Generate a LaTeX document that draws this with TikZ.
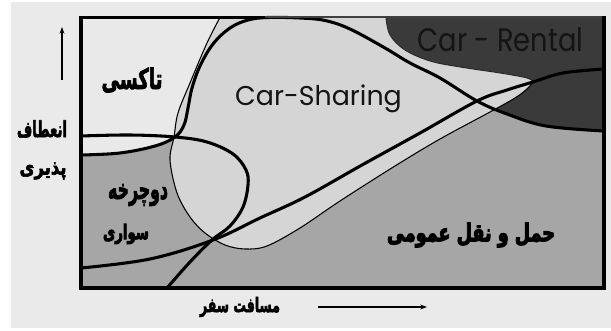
\documentclass[tikz,border=0pt]{standalone}
\usepackage{fontspec}
\usepackage{graphicx}
\setmainfont{Poppins}
\newfontfamily\fa[Script=Arabic,FakeBold=3]{DejaVu Sans Bold}
\newfontfamily\fb[Script=Arabic,FakeBold=5]{DejaVu Sans Bold}
\TeXXeTstate=1
\usetikzlibrary{arrows.meta}
\definecolor{bgc}{RGB}{234,234,234}
\definecolor{taxic}{RGB}{233,233,233}
\definecolor{csc}{RGB}{213,213,213}
\definecolor{ptc}{RGB}{166,166,166}
\definecolor{rentc}{RGB}{58,58,58}
\tikzset{
  thickline/.style={line width=2.3pt, line join=round, line cap=round},
  thinline/.style={line width=0.8pt},
  edgeline/.style={line width=0.7pt, black!85},
  frameline/.style={line width=2.9pt, line join=miter},
  fatext/.style={inner sep=0pt, text=black},
  lattext/.style={inner sep=0pt, anchor=base, text=black!92},
  axisarrow/.style={line width=1pt, -{Stealth[length=5pt,width=3.6pt]}},
}
\newcommand{\fat}[3]{\resizebox*{#1pt}{#2pt}{\fa #3}}
\newcommand{\fbt}[3]{\resizebox*{#1pt}{#2pt}{\fb #3}}
\begin{document}
\begin{tikzpicture}[x=0.75pt,y=-0.75pt]
\useasboundingbox (0,0) rectangle (611,331);
\fill[white] (0,0) rectangle (611,331);
\fill[bgc] (11,2) rectangle (611,328);
% base (public transport / bicycle)
\fill[ptc] (81,17.5) rectangle (604,288);
% taxi
\fill[taxic] (81,17.5) -- (268,17.5) -- plot[smooth,tension=0.6] coordinates {(268,17.5) (248,20) (230,28) (213,44) (200,66) (192,88) (188,108) (184,125) (175,137) (155,146) (120,153) (81,155)} -- cycle;
% car rental
\fill[rentc] plot[smooth,tension=0.6] coordinates {(386,17.5) (390,35) (405,50) (430,61) (460,67) (500,73) (527,78) (533,82)} -- (477,101) -- plot[smooth,tension=0.6] coordinates {(477,101) (507,114) (546,126) (604,131)} -- (604,17.5) -- cycle;
% car sharing
\fill[csc] plot[smooth,tension=0.55] coordinates {(220,17.5) (207,43) (190,83) (178,113) (174,137) (170,160) (177,193) (190,217) (205,233) (225,245) (245,249) (267,246) (300,228) (340,201) (395,166) (440,139) (490,112) (515,98) (527,89) (533,82)} -- plot[smooth,tension=0.6] coordinates {(533,82) (527,78) (500,73) (460,67) (430,61) (405,50) (390,35) (386,17.5)} -- cycle;
% thin outline of car sharing
\draw[thinline] plot[smooth,tension=0.55] coordinates {(220,17.5) (207,43) (190,83) (178,113) (174,137) (170,160) (177,193) (190,217) (205,233) (225,245) (245,249) (267,246) (300,228) (340,201) (395,166) (440,139) (490,112) (515,98) (527,89) (533,82)};
\draw[edgeline] plot[smooth,tension=0.6] coordinates {(533,82) (527,78) (500,73) (460,67) (430,61) (405,50) (390,35) (386,17.5)};
% thick curves
\draw[thickline] plot[smooth,tension=0.6] coordinates {(81,155) (120,153) (155,146) (175,137) (184,125) (188,108) (192,88) (200,66) (213,44) (230,28) (248,20) (268,17.5) (300,18) (325,20.5) (350,29) (385,48) (410,63) (440,78) (477,101) (507,114) (546,126) (604,131)};
\draw[thickline] plot[smooth,tension=0.6] coordinates {(81,136) (130,135) (175,137) (207,142) (233,154) (246,170) (248,185) (243,207) (230,226) (212,240) (190,262) (167,288)};
\draw[thickline] plot[smooth,tension=0.6] coordinates {(81,268) (150,259) (213,240) (260,218) (305,197) (362,165) (420,133) (477,101) (507,90) (533,82) (563,73) (604,69)};
% frame
\draw[line width=1pt, black!75] (265,17) -- (604,17);
\draw[frameline] (265,17.5) -- (81,17.5) -- (81,288) -- (604,288) -- (604,16);
% texts
\node[lattext] (carsharing) at (318.5,106) {\resizebox{125pt}{15.5pt}{Car-Sharing}};
\node[lattext] (carrental) at (500.5,52) {\resizebox{124pt}{18pt}{Car - Rental}};
\node[fatext] (taxi) at (132,80) {\fat{45.75}{18.75}{\beginR تاکسی\endR}};
\node[fatext] (flex1) at (42,129) {\fat{37.5}{13}{\beginR انعطاف\endR}};
\node[fatext] (flex2) at (43,171) {\fat{35.25}{12.75}{\beginR پذیری\endR}};
\node[fatext] (bike1) at (138,195) {\fat{45}{16.5}{\beginR دوچرخه\endR}};
\node[fatext] (bike2) at (126,234) {\fbt{34.5}{15}{\beginR سواری\endR}};
\node[fatext] (public) at (471,235) {\fbt{126}{18.5}{\beginR حمل و نقل عمومی\endR}};
\node[fatext] (dist) at (240,307) {\fat{60}{15}{\beginR مسافت سفر\endR}};
% axis arrows
\coordinate (va0) at (62,80);
\coordinate (va1) at (62,27);
\coordinate (ha0) at (318,307);
\coordinate (ha1) at (427,307);
\draw[axisarrow] (va0) -- (va1);
\draw[axisarrow] (ha0) -- (ha1);
\end{tikzpicture}
\end{document}
